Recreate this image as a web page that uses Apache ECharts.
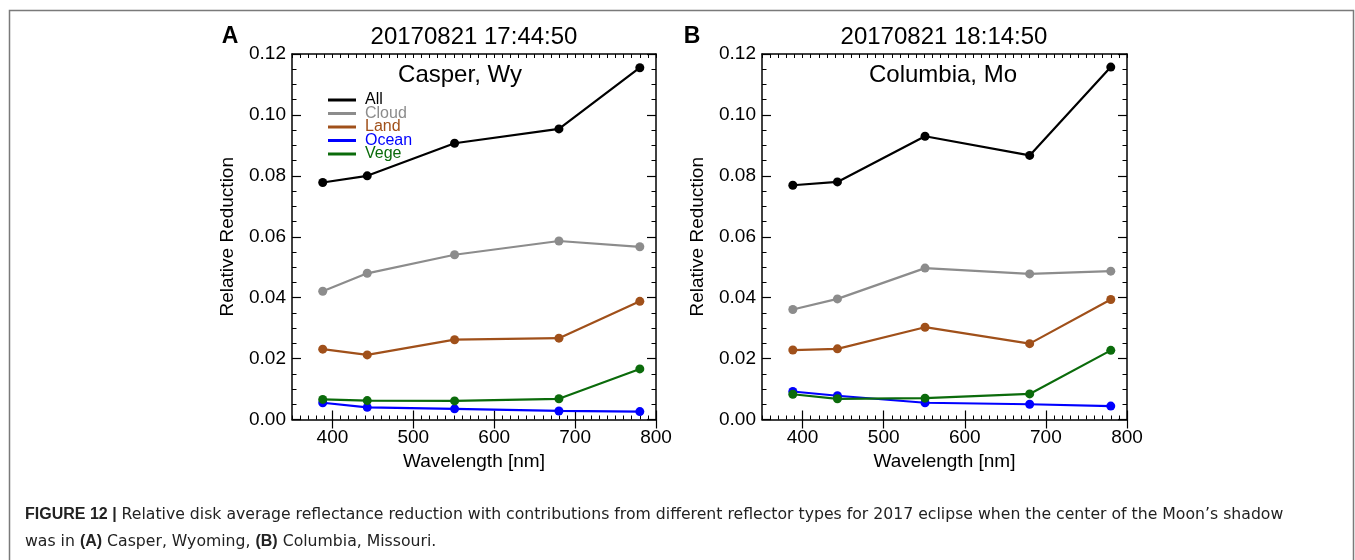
<!DOCTYPE html>
<html>
<head>
<meta charset="utf-8">
<script src="https://cdn.jsdelivr.net/npm/echarts@6/dist/echarts.min.js"></script>
<style>
  html, body { margin: 0; padding: 0; background: #fff; }
  #chart { width: 1355px; height: 560px; }
</style>
</head>
<body>
<div id="chart"></div>
<script>
// wavelengths of the EPIC channels [nm]
const wavelengths = [388, 443, 551, 680, 780]
const seriesNames = ['All', 'Cloud', 'Land', 'Ocean', 'Vege']
const seriesColors = ['#000000', '#8c8c8c', '#a0501a', '#0000ff', '#0b6b0b']
const xTickValues = [400, 500, 600, 700, 800]

// A: Casper, Wy
const allA = [0.0778, 0.0800, 0.0907, 0.0954, 0.1155]
const cloudA = [0.0421, 0.0480, 0.0541, 0.0586, 0.0567]
const landA = [0.0231, 0.0212, 0.0262, 0.0267, 0.0388]
const oceanA = [0.0055, 0.0040, 0.0035, 0.0028, 0.0026]
const vegeA = [0.0066, 0.0062, 0.0061, 0.0068, 0.0166]

// B: Columbia, Mo
const allB = [0.0769, 0.0780, 0.0930, 0.0867, 0.1157]
const cloudB = [0.0361, 0.0396, 0.0497, 0.0478, 0.0487]
const landB = [0.0228, 0.0232, 0.0303, 0.0249, 0.0394]
const oceanB = [0.0092, 0.0078, 0.0055, 0.0050, 0.0044]
const vegeB = [0.0083, 0.0068, 0.0070, 0.0084, 0.0227]

const panelA = [allA, cloudA, landA, oceanA, vegeA]
const panelB = [allB, cloudB, landB, oceanB, vegeB]

const FONT = '"Liberation Sans", Arial, Helvetica, sans-serif'
const CAPTION_FONT = '"DejaVu Sans", "Liberation Sans", sans-serif'
const boxLine = { show: true, onZero: false, lineStyle: { color: '#000', width: 1.5 } }

const makeXAxes = (g) => {
  const base = {
    gridIndex: g,
    type: 'value',
    min: 350,
    max: 800,
    interval: 10,
    axisLine: boxLine,
    splitLine: { show: false },
    axisTick: { show: true, inside: true, length: 4, lineStyle: { color: '#000', width: 1 } },
    axisLabel: { show: false }
  }
  const major = {
    ...base,
    interval: 50,
    axisLine: { show: false },
    axisTick: { show: true, inside: true, length: 9, customValues: xTickValues, lineStyle: { color: '#000', width: 1.2 } }
  }
  return [
    {
      ...base,
      position: 'bottom',
      axisLabel: { show: true, customValues: xTickValues, margin: 9, fontSize: 19, color: '#000', fontFamily: FONT },
      name: 'Wavelength [nm]',
      nameLocation: 'middle',
      nameGap: 30,
      nameTextStyle: { fontSize: 19, color: '#000', fontFamily: FONT }
    },
    { ...major, position: 'bottom' },
    { ...base, position: 'top' },
    { ...major, position: 'top' }
  ]
}

const makeYAxes = (g) => {
  const base = {
    gridIndex: g,
    type: 'value',
    min: 0,
    max: 0.12,
    interval: 0.02,
    axisLine: boxLine,
    splitLine: { show: false },
    axisTick: { show: true, inside: true, length: 9, lineStyle: { color: '#000', width: 1.2 } },
    minorTick: { show: true, splitNumber: 4, length: 4.5, lineStyle: { color: '#000', width: 1 } },
    minorSplitLine: { show: false }
  }
  return [
    {
      ...base,
      position: 'left',
      axisLabel: {
        show: true, margin: 6, fontSize: 19, color: '#000', fontFamily: FONT,
        formatter: (v) => v.toFixed(2)
      },
      name: 'Relative Reduction',
      nameLocation: 'middle',
      nameGap: 55,
      nameTextStyle: { fontSize: 19, color: '#000', fontFamily: FONT }
    },
    { ...base, position: 'right', axisLabel: { show: false } }
  ]
}

// later series are drawn on top, as in the original plot
const makeSeries = (panel, xIdx, yIdx) => panel.map((vals, i) => ({
  name: seriesNames[i],
  type: 'line',
  xAxisIndex: xIdx,
  yAxisIndex: yIdx,
  data: wavelengths.map((w, j) => [w, vals[j]]),
  symbol: 'circle',
  symbolSize: 9,
  color: seriesColors[i],
  lineStyle: { width: 2.2, color: seriesColors[i] },
  itemStyle: { color: seriesColors[i] },
  animation: false
}))

const txt = (text, x, y, size, opts = {}) => ({
  type: 'text',
  style: {
    text, x, y,
    fontSize: size,
    fontFamily: opts.font || FONT,
    fontWeight: opts.bold ? 'bold' : 'normal',
    fill: opts.color || '#000',
    textAlign: opts.align || 'center',
    textVerticalAlign: 'middle',
    rich: opts.rich
  }
})

const captionRich = { b: { fontWeight: 'bold', fontSize: 16, fontFamily: FONT, fill: '#222' } }

const chart = echarts.init(document.getElementById('chart'))

chart.setOption({
  backgroundColor: '#fff',
  animation: false,
  grid: [
    { left: 292, right: 699, top: 54, bottom: 140.5 },
    { left: 762, right: 228, top: 54, bottom: 140.5 }
  ],
  xAxis: [...makeXAxes(0), ...makeXAxes(1)],
  yAxis: [...makeYAxes(0), ...makeYAxes(1)],
  legend: {
    left: 323,
    top: 87,
    orient: 'vertical',
    icon: 'rect',
    itemWidth: 28,
    itemHeight: 3,
    itemGap: -2.5,
    selectedMode: false,
    textStyle: { fontSize: 16, fontFamily: FONT, padding: [0, 0, 0, 4] },
    data: seriesNames.map((n, i) => ({ name: n, textStyle: { color: seriesColors[i] } }))
  },
  series: [...makeSeries(panelA, 0, 0), ...makeSeries(panelB, 4, 2)],
  graphic: [
    {
      type: 'polyline',
      shape: { points: [[9.5, 560], [9.5, 10.5], [1353.5, 10.5], [1353.5, 560]] },
      style: { stroke: '#7a7a7a', lineWidth: 1.5, fill: null }
    },
    txt('A', 230, 37, 23, { bold: true }),
    txt('20170821 17:44:50', 474, 37, 24),
    txt('Casper, Wy', 460, 75, 24),
    txt('B', 692, 37, 23, { bold: true }),
    txt('20170821 18:14:50', 944, 37, 24),
    txt('Columbia, Mo', 943, 75, 24),
    txt('{b|FIGURE 12 |} Relative disk average reflectance reduction with contributions from different reflector types for 2017 eclipse when the center of the Moon\u2019s shadow',
      25, 515, 15.7, { align: 'left', color: '#222', font: CAPTION_FONT, rich: captionRich }),
    txt('was in {b|(A)} Casper, Wyoming, {b|(B)} Columbia, Missouri.',
      25, 542, 15.7, { align: 'left', color: '#222', font: CAPTION_FONT, rich: captionRich })
  ]
})
</script>
</body>
</html>
